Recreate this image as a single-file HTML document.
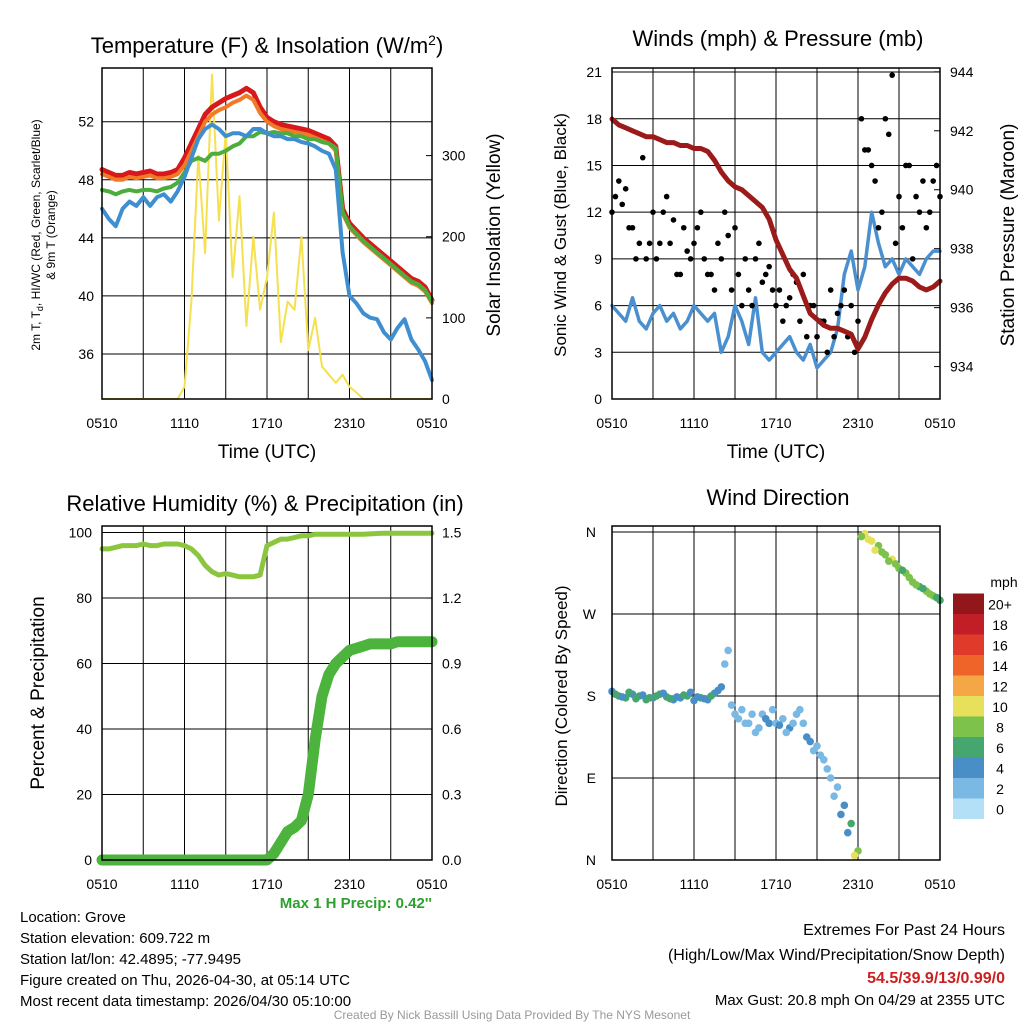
<!DOCTYPE html>
<html><head><meta charset="utf-8"><style>
html,body{margin:0;padding:0;background:#fff}
svg{display:block;font-family:"Liberation Sans",sans-serif}
</style></head><body>
<svg id="s" width="1024" height="1024" viewBox="0 0 1024 1024"></svg>
<script>
const hours=[0,0.5,1,1.5,2,2.5,3,3.5,4,4.5,5,5.5,6,6.5,7,7.5,8,8.5,9,9.5,10,10.5,11,11.5,12,12.5,13,13.5,14,14.5,15,15.5,16,16.5,17,17.5,18,18.5,19,19.5,20,20.5,21,21.5,22,22.5,23,23.5,24];
const xTickLabels=["0510","1110","1710","2310","0510"];
const tempRed=[48.7,48.5,48.3,48.3,48.5,48.4,48.5,48.6,48.4,48.4,48.5,48.7,49.5,50.5,51.5,52.5,53,53.3,53.6,53.8,54,54.3,54,53,52.3,52,51.8,51.7,51.6,51.5,51.4,51.2,51,50.8,50.3,46,45,44.5,44,43.6,43.2,42.8,42.4,42,41.6,41.2,41,40.6,39.7];
const tempOrange=[48.4,48.2,48,48,48.2,48.1,48.2,48.3,48.1,48.1,48.2,48.4,49,50,51,52,52.5,52.8,53,53.3,53.5,53.8,53.5,52.6,52,51.7,51.5,51.4,51.3,51.2,51.1,50.9,50.7,50.5,50,45.7,44.7,44.2,43.7,43.3,42.9,42.5,42.1,41.7,41.3,40.9,40.7,40.3,39.5];
const tempGreen=[47.3,47.2,47,47.2,47.3,47.2,47.3,47.3,47.2,47.4,47.5,47.8,48.5,49.3,49.5,49.3,49.8,49.8,50,50.3,50.5,51,51,51.3,51.2,51.3,51.2,51.2,51,51,50.8,50.8,50.6,50.5,50.2,45.8,44.8,44.3,43.8,43.4,43,42.6,42.2,41.8,41.4,41,40.8,40.4,39.6];
const tempBlue=[46,45.3,44.8,46,46.5,46.2,46.8,46.2,46.8,47,46.5,47.2,48.2,49.5,50.8,51.5,51.8,51.5,51,51.2,51.2,51,51.5,51.5,51.2,51,51,50.8,50.8,50.6,50.5,50.3,50,49.8,48.7,43,40,39.5,38.8,38.5,38.4,37.5,37,37.8,38.4,37,36.3,35.5,34.2];
const solar=[0,0,0,0,0,0,0,0,0,0,0,0,15,120,300,180,400,220,330,150,250,90,200,110,150,230,70,120,110,200,60,100,40,30,20,30,15,8,0,0,0,0,0,0,0,0,0,0,0];
const windSpeed=[6,5.5,5,6.5,5,4.5,5.5,6,5,5.5,4.5,5,6,5.5,5,5.5,3,4,6,5,3.5,6.5,3,2.5,3,3.5,4,3,2.5,3.5,2,2.5,3,4.5,8,9.5,7,8.5,12,10,8.5,9,8,9,8.5,8,9,9.5,9.5];
const gusts=[12,14,13.5,11,10,9,12,10,13,11.5,8,9.5,10,12,8,7,9,10.5,11,6,7,9,7.5,8.5,6,5,6.5,7.5,8,6,4,5,7,5.5,7,6,5,16,15,11,18,20.8,13,15,9,12,11,14,13];
const gustsMid=[13,12.5,11,9,15.5,10,9,12,10,8,11,9,11,9,8,10,12,7,8,9,6,10,8,7,7,6,8,5,4,6,5,3,4,6,4,3,18,16,14,12,17,10,11,15,13,14,12,15];
const pressure=[942.4,942.2,942.1,942.0,941.9,941.8,941.8,941.7,941.6,941.6,941.5,941.5,941.4,941.4,941.3,941.0,940.6,940.3,940.1,940.0,939.8,939.6,939.4,939.0,938.3,937.8,937.3,937.0,936.4,935.8,935.6,935.4,935.3,935.3,935.2,935.1,934.6,935.0,935.6,936.1,936.5,936.8,937.0,937.0,936.9,936.7,936.6,936.7,936.9];
const rh=[95,95,95.5,96,96,96,96.5,96,96,96.5,96.5,96.5,96,95,93,90,88,87,87.5,87,86.5,86.5,86.5,87,96,97,98,98,98.5,99,99,99.5,99.5,99.5,99.5,99.5,99.5,99.5,99.5,99.6,99.7,99.8,99.8,99.8,99.8,99.8,99.8,99.8,99.8];
const precip=[0,0,0,0,0,0,0,0,0,0,0,0,0,0,0,0,0,0,0,0,0,0,0,0,0,0.03,0.08,0.13,0.15,0.18,0.3,0.55,0.75,0.85,0.9,0.93,0.96,0.97,0.98,0.99,0.99,0.99,0.99,1.0,1.0,1.0,1.0,1.0,1.0];
const windDir=[185,180,178,182,180,176,178,182,179,176,178,180,175,178,176,183,190,230,160,165,150,140,160,150,150,155,145,160,150,130,125,110,90,80,60,40,10,358,350,345,335,330,320,315,305,300,295,290,285];
const dirSpeed=[5,6,6,5,7,6,5,6,6,5,4,6,5,6,5,4,4,2,3,3,3,2,3,4,3,3,4,3,3,4,3,3,2,3,4,6,9,11,10,9,8,10,8,9,8,7,9,8,7];
const windDirMid=[182,179,184,177,181,178,180,183,177,179,181,184,179,177,180,186,215,170,155,150,160,145,155,165,148,140,150,165,135,120,115,100,70,50,30,5,355,352,340,338,328,325,318,310,302,298,292,288];
const dirSpeedMid=[6,5,7,6,5,6,7,5,6,5,6,5,4,5,6,4,3,2,3,2,3,3,4,3,4,3,2,3,4,3,3,2,3,4,5,10,9,10,11,8,9,8,7,8,9,7,8,7];
const cbLabels=["0","2","4","6","8","10","12","14","16","18","20+"];
const cbColors=["#b3e0f7","#7ab9e3","#4a8ec7","#46a66f","#7dc24b","#e6e05a","#f6a745","#ef6529","#e03a2b","#c11e28","#92171b"];

const S=document.getElementById('s');const NS='http://www.w3.org/2000/svg';
function el(t,a,p){const e=document.createElementNS(NS,t);for(const k in a)e.setAttribute(k,a[k]);(p||S).appendChild(e);return e;}
function txt(x,y,s,size,anchor,extra){const e=el('text',Object.assign({x:x,y:y,'font-size':size,'text-anchor':anchor||'middle',fill:'#000'},extra||{}));e.textContent=s;return e;}
function scale(d0,d1,r0,r1){return v=>r0+(v-d0)/(d1-d0)*(r1-r0);}

function frame(x0,y0,x1,y1,name,ly){
  const g=el('g',{});
  
  
  for(let h=0;h<=24;h+=3){const X=x0+h/24*(x1-x0);el('line',{x1:X,x2:X,y1:y0,y2:y1,stroke:'#000','stroke-width':1},g);}
  xTickLabels.forEach((l,i)=>{const t=txt(x0+i*6/24*(x1-x0),ly,l,14);});
  return g;
}
function border(x0,y0,x1,y1){const r=el('rect',{x:x0,y:y0,width:x1-x0,height:y1-y0,fill:'none',stroke:'#000','stroke-width':1.5});}
function line(xs,ys,X,Y,color,w,name){let d='';xs.forEach((h,i)=>{d+=(i?'L':'M')+X(h).toFixed(1)+','+Y(ys[i]).toFixed(1);});const p=el('path',{d:d,fill:'none',stroke:color,'stroke-width':w,'stroke-linejoin':'round','stroke-linecap':'round'});return p;}

// ---------- Panel 1
{const x0=102,x1=432,y0=68,y1=399;const X=scale(0,24,x0,x1);const Y=scale(32.9,55.7,y1,y0);const Y2=scale(0,408,y1,y0);
frame(x0,y0,x1,y1,'temperature-grid',428);
[36,40,44,48,52].forEach(v=>{el('line',{x1:x0,x2:x1,y1:Y(v),y2:Y(v),stroke:'#000'});const t=txt(x0-8,Y(v)+5,String(v),14,'end');});
[0,100,200,300].forEach(v=>{el('line',{x1:x1,x2:x1-6,y1:Y2(v),y2:Y2(v),stroke:'#000'});const t=txt(x1+10,Y2(v)+5,String(v),14,'start');});
line(hours,solar,X,Y2,'#f5e050',2,'solar-insolation-line');
line(hours,tempRed,X,Y,'#d7191c',5,'temperature-2m-line');
line(hours,tempOrange,X,Y,'#f07a28',4,'temperature-9m-line');
line(hours,tempGreen,X,Y,'#4cac3c',4,'dewpoint-line');
line(hours,tempBlue,X,Y,'#3f8fd0',4,'windchill-line');
border(x0,y0,x1,y1);
const t=txt(267,53,'Temperature (F) & Insolation (W/m',22);const ts=el('tspan',{dy:-8,'font-size':14},t);ts.textContent='2';const ts2=el('tspan',{dy:8},t);ts2.textContent=')';
const a=txt(267,458,'Time (UTC)',19);
const l1=txt(0,0,'2m T, T',12,'middle',{transform:'translate(40,235) rotate(-90)'});const sb=el('tspan',{dy:3,'font-size':9},l1);sb.textContent='d';const sb2=el('tspan',{dy:-3},l1);sb2.textContent=', HI/WC (Red, Green, Scarlet/Blue)';
const l2=txt(0,0,'& 9m T (Orange)',12,'middle',{transform:'translate(55,235) rotate(-90)'});
const r=txt(0,0,'Solar Insolation (Yellow)',19,'middle',{transform:'translate(500,235) rotate(-90)'});}

// ---------- Panel 2
{const x0=612,x1=940,y0=68,y1=399;const X=scale(0,24,x0,x1);const Y=scale(0,21.26,y1,y0);const Y2=scale(932.9,944.13,y1,y0);
frame(x0,y0,x1,y1,'winds-grid',428);
[0,3,6,9,12,15,18,21].forEach(v=>{el('line',{x1:x0,x2:x1,y1:Y(v),y2:Y(v),stroke:'#000'});const t=txt(x0-10,Y(v)+5,String(v),14,'end');});
[934,936,938,940,942,944].forEach(v=>{el('line',{x1:x1,x2:x1-6,y1:Y2(v),y2:Y2(v),stroke:'#000'});const t=txt(x1+10,Y2(v)+5,String(v),14,'start');});
line(hours,windSpeed,X,Y,'#4a90d0',3.5,'sonic-wind-line');
gusts.forEach((g,i)=>{const c=el('circle',{cx:X(hours[i]),cy:Y(g),r:2.8,fill:'#000'});});
gustsMid.forEach((g,i)=>{const c=el('circle',{cx:X(hours[i]+0.25),cy:Y(g),r:2.8,fill:'#000'});});
line(hours,pressure,X,Y2,'#9b1b1b',5,'pressure-line');
border(x0,y0,x1,y1);
const t=txt(778,46,'Winds (mph) & Pressure (mb)',22);
const a=txt(776,458,'Time (UTC)',19);
const l=txt(0,0,'Sonic Wind & Gust (Blue, Black)',17,'middle',{transform:'translate(566,235) rotate(-90)'});
const r=txt(0,0,'Station Pressure (Maroon)',19,'middle',{transform:'translate(1014,235) rotate(-90)'});}

// ---------- Panel 3
{const x0=102,x1=432,y0=526,y1=860;const X=scale(0,24,x0,x1);const Y=scale(0,102,y1,y0);const Y2=scale(0,1.53,y1,y0);
frame(x0,y0,x1,y1,'humidity-grid',889);
[0,20,40,60,80,100].forEach(v=>{el('line',{x1:x0,x2:x1,y1:Y(v),y2:Y(v),stroke:'#000'});const t=txt(x0-10,Y(v)+5,String(v),14,'end');});
[0,0.3,0.6,0.9,1.2,1.5].forEach(v=>{el('line',{x1:x1,x2:x1-6,y1:Y2(v),y2:Y2(v),stroke:'#000'});const t=txt(x1+10,Y2(v)+5,v.toFixed(1),14,'start');});
line(hours,rh,X,Y,'#8cc63f',5,'relative-humidity-line');
line(hours,precip,X,Y2,'#4cb33c',11,'precipitation-line');
border(x0,y0,x1,y1);
const t=txt(265,511,'Relative Humidity (%) & Precipitation (in)',22);
const l=txt(0,0,'Percent & Precipitation',19,'middle',{transform:'translate(44,693) rotate(-90)'});
const m=txt(432,908,'Max 1 H Precip: 0.42\'\'',15,'end',{fill:'#2ea02e','font-weight':'bold'});}

// ---------- Panel 4
{const x0=612,x1=940,y0=532,y1=860;const X=scale(0,24,x0,x1);const Y=scale(0,360,y1,y0);
frame(x0,y0-6,x1,y1,'wind-direction-grid',889);
[['N',0],['E',90],['S',180],['W',270],['N',360]].forEach(d=>{el('line',{x1:x0,x2:x1,y1:Y(d[1]),y2:Y(d[1]),stroke:'#000'});const t=txt(x0-16,Y(d[1])+5,d[0],14,'end');});
windDir.forEach((d,i)=>{const k=Math.min(10,Math.floor(dirSpeed[i]/2));const c=el('circle',{cx:X(hours[i]),cy:Y(d),r:3.8,fill:cbColors[k]});});
windDirMid.forEach((d,i)=>{const k=Math.min(10,Math.floor(dirSpeedMid[i]/2));const c=el('circle',{cx:X(hours[i]+0.25),cy:Y(d),r:3.8,fill:cbColors[k]});});
border(x0,y0-6,x1,y1);
const t=txt(778,505,'Wind Direction',22);
const l=txt(0,0,'Direction (Colored By Speed)',17,'middle',{transform:'translate(567,696) rotate(-90)'});
cbColors.forEach((c,i)=>{const y=819-(i+1)*20.5;const r=el('rect',{x:953,y:y,width:31,height:20.5,fill:c});const tl=txt(1000,y+16,cbLabels[i],14);});
const u=txt(1004,587,'mph',14);}

// ---------- footer text
const info=['Location: Grove','Station elevation: 609.722 m','Station lat/lon: 42.4895; -77.9495','Figure created on Thu, 2026-04-30, at 05:14 UTC','Most recent data timestamp: 2026/04/30 05:10:00'];
info.forEach((s,i)=>{const t=txt(20,922+i*21,s,15,'start');});
let e;
e=txt(1005,935,'Extremes For Past 24 Hours',16,'end');
e=txt(1005,960,'(High/Low/Max Wind/Precipitation/Snow Depth)',16,'end');
e=txt(1005,983,'54.5/39.9/13/0.99/0',16,'end',{fill:'#cc1f1f','font-weight':'bold'});
e=txt(1005,1005,'Max Gust: 20.8 mph On 04/29 at 2355 UTC',15,'end');
e=txt(512,1019,'Created By Nick Bassill Using Data Provided By The NYS Mesonet',12,'middle',{fill:'#999'});
</script>
</body></html>
